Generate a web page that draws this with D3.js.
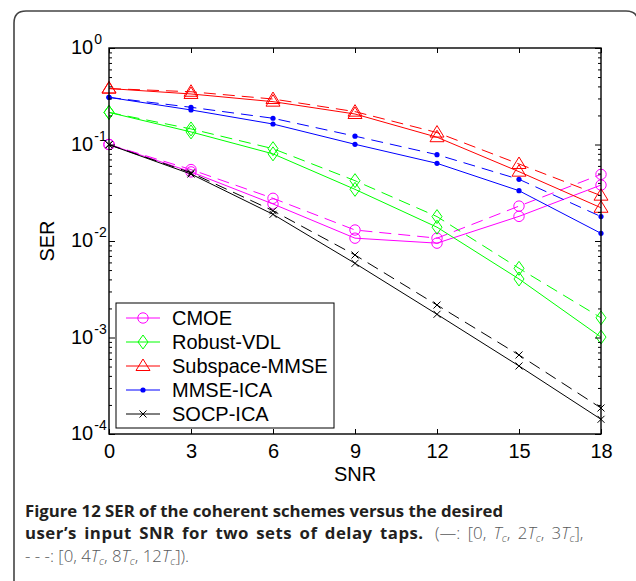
<!DOCTYPE html>
<html><head><meta charset="utf-8">
<script src="https://cdn.jsdelivr.net/npm/d3@7"></script>
<style>
body{margin:0;background:#fff;}
svg{display:block;}
</style></head>
<body>
<svg id="chart" width="636" height="581"></svg>
<script>
// ---- data ----
const snr = [0, 3, 6, 9, 12, 15, 18];
const xTicks = [0, 3, 6, 9, 12, 15, 18];
const yTickExps = [0, -1, -2, -3, -4];
const seriesNames = ["CMOE", "Robust-VDL", "Subspace-MMSE", "MMSE-ICA", "SOCP-ICA"];
const seriesColors = ["#ff00ff", "#00ff00", "#ff0000", "#0000ff", "#000000"];
const seriesMarkers = ["circle", "diamond", "triangle", "dot", "cross"];
const cmoeSolid  = [0.1, 0.052, 0.0242, 0.0107, 0.0095, 0.018, 0.038];
const cmoeDashed = [0.1, 0.055, 0.0277, 0.013, 0.0107, 0.023, 0.049];
const vdlSolid   = [0.215, 0.135, 0.080, 0.0343, 0.0139, 0.00404, 0.00101];
const vdlDashed  = [0.215, 0.145, 0.0905, 0.0422, 0.0179, 0.00521, 0.0016];
const subSolid   = [0.38, 0.334, 0.278, 0.207, 0.119, 0.0523, 0.0221];
const subDashed  = [0.38, 0.352, 0.296, 0.219, 0.133, 0.0628, 0.0295];
const icaSolid   = [0.308, 0.228, 0.163, 0.1005, 0.0638, 0.0332, 0.0120];
const icaDashed  = [0.308, 0.243, 0.187, 0.122, 0.0785, 0.0436, 0.0179];
const socpSolid  = [0.0995, 0.0494, 0.0189, 0.00587, 0.00174, 0.000507, 0.000142];
const socpDashed = [0.0995, 0.051, 0.0206, 0.00716, 0.00217, 0.000659, 0.000186];
const solidSets  = [cmoeSolid, vdlSolid, subSolid, icaSolid, socpSolid];
const dashedSets = [cmoeDashed, vdlDashed, subDashed, icaDashed, socpDashed];

// ---- layout ----
const svg = d3.select("#chart");
const L = 109, R = 601, T = 48, B = 434;
const x = d3.scaleLinear().domain([0, 18]).range([L, R]);
const y = d3.scaleLog().domain([1e-4, 1]).range([B, T]);
const axisFont = "'Liberation Sans', Arial, sans-serif";

// outer frame
svg.append("path")
  .attr("d", `M14,590 L14,23 Q14,11 26,11 L626,11 Q638,11 638,23 L638,590`)
  .attr("fill", "none").attr("stroke", "#444").attr("stroke-width", 1.6);

// ---- series ----
const line = d3.line().x((d, i) => x(snr[i])).y(d => y(d));
const g = svg.append("g");

function marker(sel, type, color) {
  if (type === "circle") {
    sel.append("circle").attr("r", 5.2).attr("fill", "none").attr("stroke", color).attr("stroke-width", 1);
  } else if (type === "diamond") {
    sel.append("path").attr("d", "M0,-7L5,0L0,7L-5,0Z").attr("fill", "none").attr("stroke", color).attr("stroke-width", 1);
  } else if (type === "triangle") {
    sel.append("path").attr("d", "M0,-7L7,4.5L-7,4.5Z").attr("fill", "none").attr("stroke", color).attr("stroke-width", 1);
  } else if (type === "dot") {
    sel.append("circle").attr("r", 2.6).attr("fill", color);
  } else if (type === "cross") {
    sel.append("path").attr("d", "M-3.5,-3.5L3.5,3.5M-3.5,3.5L3.5,-3.5").attr("stroke", color).attr("stroke-width", 1);
  }
}

seriesNames.forEach((name, s) => {
  const c = seriesColors[s];
  [[solidSets[s], null], [dashedSets[s], "12,7"]].forEach(([vals, dash]) => {
    g.append("path").datum(vals).attr("d", line)
      .attr("fill", "none").attr("stroke", c).attr("stroke-width", 1)
      .attr("stroke-dasharray", dash);
    vals.forEach((v, i) => {
      const m = g.append("g").attr("transform", `translate(${x(snr[i])},${y(v)})`);
      marker(m, seriesMarkers[s], c);
    });
  });
});

// ---- axes box & ticks ----
svg.append("rect").attr("x", L).attr("y", T).attr("width", R - L).attr("height", B - T)
  .attr("fill", "none").attr("stroke", "#000").attr("stroke-width", 1.4);

const xAxisB = d3.axisBottom(x).tickValues(xTicks).tickSizeInner(-5).tickSizeOuter(0).tickPadding(10);
const gxb = svg.append("g").attr("transform", `translate(0,${B})`).call(xAxisB);
gxb.select(".domain").remove();
gxb.selectAll("text").attr("font-family", axisFont).attr("font-size", 20).attr("fill", "#000");
const xAxisT = d3.axisTop(x).tickValues(xTicks).tickSizeInner(-5).tickSizeOuter(0).tickFormat("");
const gxt = svg.append("g").attr("transform", `translate(0,${T})`).call(xAxisT);
gxt.select(".domain").remove();

// y minor + major ticks
const minorVals = [];
for (let e = -4; e < 0; e++) for (let k = 2; k <= 9; k++) minorVals.push(k * Math.pow(10, e));
const majorVals = yTickExps.map(e => Math.pow(10, e));
[[L, 1], [R, -1]].forEach(([xx, dir]) => {
  const mk = () => (dir === 1 ? d3.axisLeft(y) : d3.axisRight(y));
  const gm = svg.append("g").attr("transform", `translate(${xx},0)`)
    .call(mk().tickValues(minorVals).tickSizeInner(-3).tickSizeOuter(0).tickFormat(""));
  gm.select(".domain").remove();
  const gM = svg.append("g").attr("transform", `translate(${xx},0)`)
    .call(mk().tickValues(majorVals).tickSizeInner(-6).tickSizeOuter(0).tickFormat(""));
  gM.select(".domain").remove();
});
svg.selectAll(".tick line").attr("stroke", "#000");

// y tick labels 10^e
yTickExps.forEach(e => {
  const t = svg.append("text").attr("x", 71).attr("y", y(Math.pow(10, e)) + 6)
    .attr("font-family", axisFont).attr("font-size", 20).attr("fill", "#000");
  t.append("tspan").text("10");
  t.append("tspan").attr("dy", -10).attr("dx", 1).attr("font-size", 14).text(String(e));
});

// axis titles
svg.append("text").attr("x", x(9)).attr("y", 481).attr("text-anchor", "middle")
  .attr("font-family", axisFont).attr("font-size", 20).text("SNR");
svg.append("text").attr("transform", `translate(54,${(T + B) / 2}) rotate(-90)`).attr("text-anchor", "middle")
  .attr("font-family", axisFont).attr("font-size", 20).text("SER");

// ---- legend ----
const lg = svg.append("g");
lg.append("rect").attr("x", 116).attr("y", 303).attr("width", 218).attr("height", 125)
  .attr("fill", "#fff").attr("stroke", "#000").attr("stroke-width", 1);
seriesNames.forEach((name, s) => {
  const cy = 318 + s * 24;
  lg.append("line").attr("x1", 126).attr("x2", 160).attr("y1", cy).attr("y2", cy)
    .attr("stroke", seriesColors[s]).attr("stroke-width", 1);
  marker(lg.append("g").attr("transform", `translate(143,${cy})`), seriesMarkers[s], seriesColors[s]);
  lg.append("text").attr("x", 172).attr("y", cy + 7).attr("font-family", axisFont)
    .attr("font-size", 20).attr("fill", "#000").text(name);
});

// ---- caption ----
const capFont = "'Open Sans', 'Noto Sans', sans-serif";
const cap = svg.append("g").attr("font-family", capFont).attr("font-size", 16.8);
cap.append("text").attr("x", 25).attr("y", 517)
  .attr("font-weight", 700).attr("fill", "#231f20")
  .attr("textLength", 478).attr("lengthAdjust", "spacing")
  .text("Figure 12 SER of the coherent schemes versus the desired");
cap.append("text").attr("x", 25).attr("y", 539)
  .attr("font-weight", 700).attr("fill", "#231f20")
  .attr("letter-spacing", 0.5).attr("word-spacing", 2.5)
  .text("user\u2019s input SNR for two sets of delay taps.");
let pendingDy = 0;
function regular(t, s) {
  const sp = t.append("tspan").attr("font-weight", 300).attr("fill", "#58595b").text(s);
  if (pendingDy) { sp.attr("dy", pendingDy); pendingDy = 0; }
}
function tc(t, pre) {
  if (pre) regular(t, pre);
  t.append("tspan").attr("font-weight", 300).attr("font-style", "italic").attr("fill", "#58595b").text("T");
  t.append("tspan").attr("font-weight", 300).attr("font-style", "italic").attr("fill", "#58595b").attr("font-size", 11).attr("dy", 3).text("c");
  pendingDy = -3;
}
const l2 = cap.append("text").attr("x", 435).attr("y", 539).attr("word-spacing", 3);
regular(l2, "(\u2014: [0, ");
tc(l2); regular(l2, ", "); tc(l2, "2"); regular(l2, ", "); tc(l2, "3"); regular(l2, "],");
const l3 = cap.append("text").attr("x", 25).attr("y", 562);
regular(l3, "- - -: [0, ");
tc(l3, "4"); regular(l3, ", "); tc(l3, "8"); regular(l3, ", "); tc(l3, "12"); regular(l3, "]).");
</script>
</body></html>
